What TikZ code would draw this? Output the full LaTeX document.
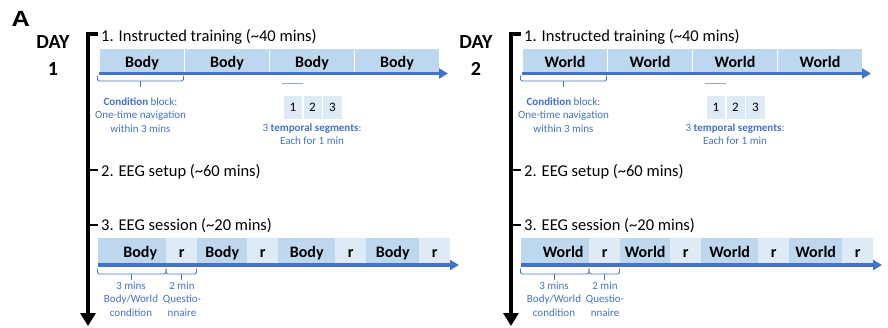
\documentclass[tikz,border=0pt]{standalone}
\usepackage{fontspec}
\setmainfont{Carlito}
\newfontfamily\arialf{Liberation Sans}
\usetikzlibrary{arrows.meta}
\definecolor{boxdark}{HTML}{BDD7EE}
\definecolor{boxlight}{HTML}{DEEBF7}
\definecolor{bl}{HTML}{4472C4}
\definecolor{segcol}{HTML}{8FAADC}
\tikzset{
  daylbl/.style={anchor=base, inner sep=0pt, font=\bfseries\fontsize{20}{22}\selectfont},
  head/.style={anchor=base west, inner sep=0pt, font=\fontsize{16.5}{19}\selectfont},
  axisline/.style={line width=3.5pt, line join=miter, -{Triangle[length=13pt,width=15pt]}},
  tickline/.style={line width=2.5pt},
  tbox/.style={anchor=north west, minimum width=85, minimum height=24, fill=boxdark, draw=white,
    line width=1pt, inner sep=0pt, font=\bfseries\fontsize{16}{18}\selectfont, text height=13pt, text depth=0pt},
  sbox/.style={anchor=north west, minimum height=25, draw=none,
    inner sep=0pt, font=\bfseries\fontsize{16}{18}\selectfont, text height=13pt, text depth=0pt},
  segbox/.style={anchor=north west, minimum width=19, minimum height=24, fill=boxlight, draw=white,
    line width=1pt, inner sep=0pt, font=\fontsize{13}{15}\selectfont, text height=8.5pt, text depth=0pt},
  blarrow/.style={draw=bl, line width=3.5pt, -{Triangle[length=9pt,width=10pt]}},
  bracel/.style={draw=bl, line width=0.9pt, rounded corners=1.5pt},
  bltext/.style={anchor=north, inner sep=0pt, align=center, text=bl, font=\fontsize{11}{13.5}\selectfont},
}
\newcommand\daypanel[3]{%
  \node[daylbl] (#1day) at (53,48.3) {DAY};
  \node[daylbl] (#1num) at (53,75) {#3};
  \coordinate (#1hook) at (97.5,34);
  \coordinate (#1top) at (88,34);
  \coordinate (#1bot) at (88,326);
  \draw[axisline] (#1hook) -- (#1top) -- (#1bot);
  \coordinate (#1ka) at (88,170); \coordinate (#1kb) at (97.5,170);
  \coordinate (#1kc) at (88,225); \coordinate (#1kd) at (97.5,225);
  \draw[tickline] (#1ka) -- (#1kb);
  \draw[tickline] (#1kc) -- (#1kd);
  \node[head] (#1ha) at (101,41.5) {1. Instructed training (\textasciitilde40 mins)};
  \node[head] (#1hb) at (101,176) {2. EEG setup (\textasciitilde60 mins)};
  \node[head] (#1hc) at (101,230) {3. EEG session (\textasciitilde20 mins)};
  % training bar
  \foreach \i in {1,...,4} \node[tbox] (#1tb\i) at ({99+85*(\i-1)},48) {#2};
  \coordinate (#1ts) at (99,73.5); \coordinate (#1te) at (448,73.5);
  \draw[blarrow] (#1ts) -- (#1te);
  % condition brace
  \draw[bracel] (97.5,75.5) -- (97.5,81) -- (183.5,81) -- (183.5,75.5);
  \draw[bracel] (140.5,81) -- (140.5,87);
  \node[bltext] (#1cond) at (140.5,97.3) {\textbf{Condition} block:\\One-time navigation\\within 3 mins};
  % temporal segments
  \draw[draw=segcol, line width=1.2pt] (282,83.5) -- (303,83.5);
  \node[segbox] (#1sg1) at (283,95) {1};
  \node[segbox] (#1sg2) at (302.5,95) {2};
  \node[segbox, minimum width=20] (#1sg3) at (322,95) {3};
  \node[bltext] (#1segt) at (312,123.3) {3 \textbf{temporal segments}:\\Each for 1 min};
  % session bar
  \foreach \x/\w/\c/\t [count=\i] in {98/68/boxdark/{\hspace*{16pt}#2}, 166/31/boxlight/r, 197/50/boxdark/#2, 247/31/boxlight/r,
      278/57/boxdark/#2, 335/31/boxlight/r, 366/53/boxdark/#2, 419/31/boxlight/r}
    \node[sbox, fill=\c, minimum width=\w] (#1sb\i) at (\x,238) {\t};
  \coordinate (#1ss) at (98,265); \coordinate (#1se) at (459,265);
  \draw[blarrow] (#1ss) -- (#1se);
  \draw[bracel] (97.5,268.5) -- (97.5,274) -- (166,274) -- (166,268.5);
  \draw[bracel] (131,274) -- (131,279.5);
  \draw[bracel] (166,268.5) -- (166,274) -- (196.5,274) -- (196.5,268.5);
  \draw[bracel] (181.5,274) -- (181.5,279.5);
  \node[bltext] (#1la) at (131,281.5) {3 mins\\Body/World\\condition};
  \node[bltext] (#1lb) at (182,281.5) {2 min\\Questio-\\nnaire};
}
\begin{document}
\begin{tikzpicture}[x=1pt,y=-1pt]
\useasboundingbox (0,0) rectangle (888,327);
\node[anchor=base west, inner sep=0pt, xscale=1.15, font=\arialf\bfseries\fontsize{22}{24}\selectfont] (lblA) at (11.5,26.7) {A};
\begin{scope}
\daypanel{d1}{Body}{1}
\end{scope}
\begin{scope}[xshift=423pt]
\daypanel{d2}{World}{2}
\end{scope}
\end{tikzpicture}
\end{document}
